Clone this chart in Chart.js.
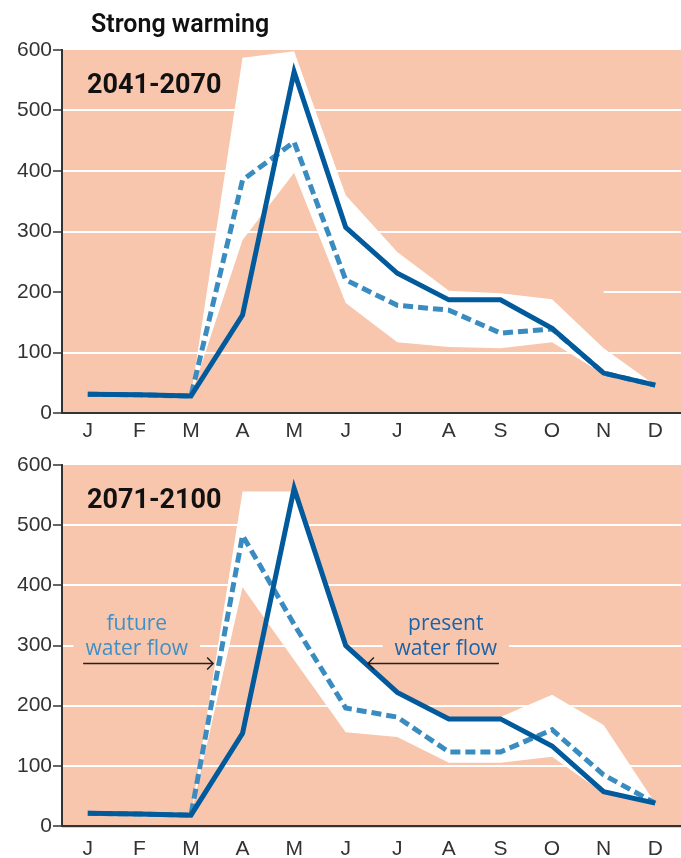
<!DOCTYPE html>
<html lang="en">
<head>
<meta charset="UTF-8">
<title>Strong warming - water flow</title>
<script src="https://cdn.jsdelivr.net/npm/chart.js"></script>
<style>
  * { margin: 0; padding: 0; box-sizing: border-box; }
  body { width: 681px; height: 858px; background: #fff; position: relative; overflow: hidden; }
  canvas { position: absolute; left: 0; }
  #topChart { top: 0; }
  #bottomChart { top: 440px; }
</style>
</head>
<body>
<canvas id="topChart" width="681" height="452"></canvas>
<canvas id="bottomChart" width="681" height="418"></canvas>
<script>
  // months and y ticks
  const months = ['J', 'F', 'M', 'A', 'M', 'J', 'J', 'A', 'S', 'O', 'N', 'D'];
  const yTicks = [0, 100, 200, 300, 400, 500, 600];

  // 2041-2070
  const present2041 = [31, 30, 28, 162, 564, 307, 231, 187, 187, 140, 66, 46];
  const future2041 = [31, 30, 28, 385, 448, 220, 178, 170, 132, 139, 66, 46];
  const upper2041 = [null, null, 28, 587, 598, 360, 266, 202, 198, 188, 107, 46];
  const lower2041 = [null, null, 28, 286, 397, 182, 117, 109, 107, 117, 64, 46];

  // 2071-2100
  const present2071 = [21, 20, 18, 154, 561, 300, 222, 178, 178, 133, 57, 38];
  const future2071 = [21, 20, 18, 483, 335, 196, 181, 123, 123, 160, 85, 38];
  const upper2071 = [null, null, 18, 556, 556, 302, 224, 180, 181, 218, 168, 38];
  const lower2071 = [null, null, 18, 397, 276, 156, 148, 105, 105, 115, 55, 38];

  const SALMON = '#f8c5ad';
  const DARK_BLUE = '#005a9b';
  const LIGHT_BLUE = '#3a8cc0';
  const AXIS = '#333333';

  function makeDatasets(present, future, upper, lower) {
    return [
      { data: present, borderColor: DARK_BLUE, borderWidth: 5, pointRadius: 0, tension: 0, fill: false, borderJoinStyle: 'miter' },
      { data: future, borderColor: LIGHT_BLUE, borderWidth: 5, borderDash: [10, 5], pointRadius: 0, tension: 0, fill: false },
      { data: upper, borderWidth: 0, borderColor: 'rgba(0,0,0,0)', backgroundColor: '#ffffff', pointRadius: 0, tension: 0, fill: '+1' },
      { data: lower, borderWidth: 0, borderColor: 'rgba(0,0,0,0)', pointRadius: 0, tension: 0, fill: false }
    ];
  }

  // salmon background, period label, odd grid bits and annotations
  const panelPlugin = {
    id: 'panel',
    beforeDraw(chart, args, opts) {
      const { ctx, chartArea: a } = chart;
      ctx.save();
      ctx.fillStyle = SALMON;
      ctx.fillRect(a.left, a.top, a.right - a.left, a.bottom - a.top + opts.extraBottom);
      ctx.restore();
    },
    beforeDatasetsDraw(chart, args, opts) {
      if (!opts.partialGrid) return;
      const { ctx, chartArea: a, scales } = chart;
      const y = scales.y.getPixelForValue(opts.partialGrid.value);
      ctx.save();
      ctx.strokeStyle = '#ffffff';
      ctx.lineWidth = 2;
      ctx.beginPath();
      ctx.moveTo(scales.x.getPixelForValue(opts.partialGrid.from), y);
      ctx.lineTo(a.right, y);
      ctx.stroke();
      ctx.restore();
    },
    afterDatasetsDraw(chart, args, opts) {
      const { ctx, chartArea: a, scales } = chart;
      ctx.save();
      if (opts.title) {
        ctx.fillStyle = '#111';
        ctx.font = '600 25px Roboto';
        ctx.textBaseline = 'alphabetic';
        ctx.fillText(opts.title, a.left + 29, a.top - 18);
      }
      ctx.fillStyle = '#111';
      ctx.font = 'bold 27px Roboto';
      ctx.textBaseline = 'alphabetic';
      ctx.fillText(opts.period, a.left + 25, a.top + 43);

      (opts.notes || []).forEach(n => {
        const cx = scales.x.getPixelForValue(n.at);
        const ay = scales.y.getPixelForValue(n.arrowValue);
        ctx.font = '21px "Open Sans"';
        ctx.textAlign = 'center';
        ctx.textBaseline = 'middle';
        const w = Math.max(...n.lines.map(l => ctx.measureText(l).width));
        ctx.fillStyle = SALMON;
        ctx.fillRect(cx - w / 2 - 12, ay - 52, w + 24, 40);
        ctx.fillStyle = n.color;
        n.lines.forEach((l, i) => ctx.fillText(l, cx, ay - 40 + i * 25));
        // arrow
        const x0 = scales.x.getPixelForValue(n.from);
        const x1 = scales.x.getPixelForValue(n.to);
        const dir = Math.sign(x1 - x0);
        ctx.strokeStyle = '#222';
        ctx.lineWidth = 1.5;
        ctx.beginPath();
        ctx.moveTo(x0, ay);
        ctx.lineTo(x1, ay);
        ctx.moveTo(x1 - dir * 6, ay - 6);
        ctx.lineTo(x1, ay);
        ctx.lineTo(x1 - dir * 6, ay + 6);
        ctx.stroke();
      });
      ctx.restore();
    }
  };

  function makeChart(id, datasets, pad, xHeight, xPad, panelOpts, hiddenGrid) {
    return new Chart(document.getElementById(id), {
      type: 'line',
      data: { labels: months, datasets: datasets },
      plugins: [panelPlugin],
      options: {
        responsive: false,
        animation: false,
        events: [],
        layout: { padding: { top: pad, left: 0, right: 0, bottom: 0 } },
        plugins: {
          legend: { display: false },
          tooltip: { enabled: false },
          panel: panelOpts
        },
        scales: {
          x: {
            offset: true,
            grid: { display: true, drawOnChartArea: false, drawTicks: false, color: 'rgba(0,0,0,0)' },
            border: { display: true, color: AXIS, width: 2 },
            ticks: { color: AXIS, font: { family: '"Liberation Sans"', size: 21 }, padding: xPad, autoSkip: false, maxRotation: 0 },
            afterFit: s => { s.height = xHeight; }
          },
          y: {
            min: 0,
            max: 600,
            afterBuildTicks: s => { s.ticks = yTicks.map(v => ({ value: v })); },
            grid: {
              color: c => (c.tick && hiddenGrid.includes(c.tick.value)) ? 'rgba(0,0,0,0)' : '#ffffff',
              lineWidth: 2,
              tickColor: AXIS,
              tickLength: 9,
              tickWidth: 1.5
            },
            border: { display: true, color: AXIS, width: 2 },
            ticks: { color: AXIS, font: { family: '"Liberation Sans"', size: 21 }, padding: 1 },
            afterFit: s => { s.width = 62; }
          }
        }
      }
    });
  }

  makeChart('topChart', makeDatasets(present2041, future2041, upper2041, lower2041), 50, 39, 6, {
    title: 'Strong warming',
    period: '2041-2070',
    extraBottom: 0,
    partialGrid: { value: 200, from: 10 }
  }, [0, 200, 600]);

  makeChart('bottomChart', makeDatasets(present2071, future2071, upper2071, lower2071), 25, 32, 11, {
    period: '2071-2100',
    extraBottom: 2,
    notes: [
      { lines: ['future', 'water flow'], color: '#3f90c6', at: 0.95, arrowValue: 270, from: -0.09, to: 2.43 },
      { lines: ['present', 'water flow'], color: '#1b62a6', at: 6.94, arrowValue: 270, from: 7.97, to: 5.43 }
    ]
  }, [0, 600]);
</script>
</body>
</html>
